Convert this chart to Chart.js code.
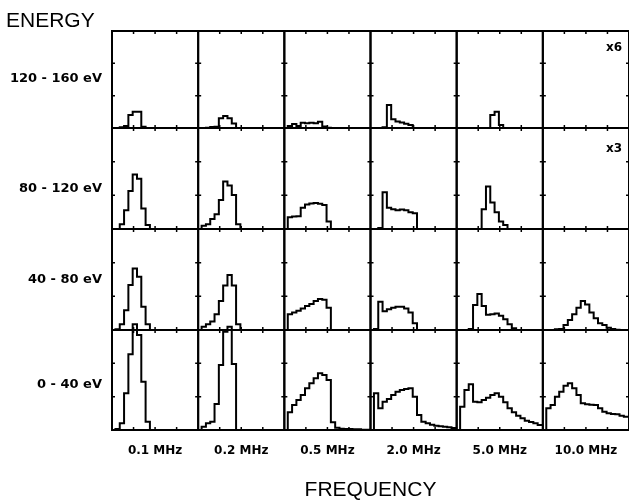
<!DOCTYPE html>
<html>
<head>
<meta charset="utf-8">
<script src="https://cdn.jsdelivr.net/npm/chart.js@4.4.0/dist/chart.umd.min.js"></script>
<style>
  html, body { margin: 0; padding: 0; background: #fff; }
</style>
</head>
<body>
<canvas id="myChart" width="629" height="503"></canvas>
<script>
// energy bands, top row first
const energyLabels = ['120 - 160 eV', '80 - 120 eV', '40 - 80 eV', '0 - 40 eV'];
const freqLabels = ['0.1 MHz', '0.2 MHz', '0.5 MHz', '2.0 MHz', '5.0 MHz', '10.0 MHz'];
const rowScale = ['x6', 'x3', '', ''];

// counts per bin, 20 bins per panel, one array per frequency
const band120to160 = [
  [0, 0, 0.2, 0.6, 4.0, 5.0, 5.0, 0.4, 0, 0, 0, 0, 0, 0, 0, 0, 0, 0, 0, 0],
  [0, 0, 0.1, 0.3, 0.4, 3.0, 3.7, 3.0, 1.4, 0, 0, 0, 0, 0, 0, 0, 0, 0, 0, 0],
  [0.2, 0.6, 1.2, 0.6, 1.6, 1.5, 1.6, 1.5, 1.9, 0.5, 0.1, 0, 0, 0, 0, 0, 0, 0, 0, 0],
  [0, 0, 0, 0.2, 7.1, 2.7, 2.0, 1.7, 1.3, 0.9, 0, 0, 0, 0, 0, 0, 0, 0, 0, 0],
  [0, 0, 0, 0, 0, 0, 0, 0, 4.0, 5.0, 0.9, 0, 0, 0, 0, 0, 0, 0, 0, 0],
  [0, 0, 0, 0, 0, 0, 0, 0, 0, 0, 0, 0, 0, 0, 0, 0, 0, 0, 0, 0]
];
const band80to120 = [
  [0, 0, 1.4, 5.6, 11.3, 16.2, 14.9, 6.1, 1.2, 0, 0, 0, 0, 0, 0, 0, 0, 0, 0, 0],
  [0, 1.0, 1.4, 3.0, 4.4, 8.6, 14.1, 12.9, 10.1, 1.4, 0, 0, 0, 0, 0, 0, 0, 0, 0, 0],
  [3.2, 3.5, 3.7, 3.8, 6.3, 7.3, 7.6, 7.7, 7.5, 7.1, 2.2, 0, 0, 0, 0, 0, 0, 0, 0, 0],
  [0, 0, 0.3, 10.9, 6.3, 5.9, 5.6, 5.8, 5.6, 5.0, 4.7, 0, 0, 0, 0, 0, 0, 0, 0, 0],
  [0, 0, 0, 0, 0, 0, 5.9, 12.6, 7.9, 5.0, 2.2, 1.2, 0, 0, 0, 0, 0, 0, 0, 0],
  [0, 0, 0, 0, 0, 0, 0, 0, 0, 0, 0, 0, 0, 0, 0, 0, 0, 0, 0, 0]
];
const band40to80 = [
  [0, 0.2, 1.7, 5.9, 13.4, 18.3, 15.8, 6.9, 1.7, 0, 0, 0, 0, 0, 0, 0, 0, 0, 0, 0],
  [0.3, 1.0, 1.7, 2.5, 4.7, 8.6, 13.2, 16.3, 13.2, 1.7, 0, 0, 0, 0, 0, 0, 0, 0, 0, 0],
  [3.3, 4.7, 5.2, 5.7, 6.4, 7.1, 7.7, 8.6, 9.2, 9.0, 6.6, 0, 0, 0, 0, 0, 0, 0, 0, 0],
  [0, 0.3, 8.4, 5.6, 6.2, 6.6, 6.9, 6.9, 6.4, 5.2, 2.0, 0, 0, 0, 0, 0, 0, 0, 0, 0],
  [0, 0, 0, 0.3, 7.4, 10.7, 7.1, 4.5, 4.7, 4.9, 4.2, 3.2, 1.7, 0.5, 0, 0, 0, 0, 0, 0],
  [0, 0, 0, 0.2, 0.3, 1.5, 3.0, 4.7, 6.6, 8.6, 7.6, 5.2, 3.5, 2.0, 1.5, 0.7, 0.3, 0.1, 0, 0]
];
const band0to40 = [
  [0, 0.3, 2.0, 11.0, 22.7, 31.7, 28.5, 14.5, 2.5, 0, 0, 0, 0, 0, 0, 0, 0, 0, 0, 0],
  [0.3, 1.0, 2.0, 2.5, 7.8, 19.5, 29.5, 31.0, 19.8, 0, 0, 0, 0, 0, 0, 0, 0, 0, 0, 0],
  [3.5, 5.3, 7.5, 9.0, 10.5, 12.5, 14.0, 15.5, 17.0, 16.5, 15.0, 2.3, 0.7, 0.4, 0.3, 0.3, 0.2, 0.2, 0.1, 0.1],
  [0, 11.0, 6.5, 8.5, 9.3, 10.5, 11.5, 12.0, 12.3, 12.5, 10.0, 4.5, 2.5, 2.0, 1.6, 1.3, 1.1, 1.0, 0.8, 0.6],
  [0, 7.0, 12.0, 13.7, 8.5, 8.3, 9.0, 9.7, 10.5, 11.0, 10.0, 8.3, 6.5, 5.3, 4.3, 3.5, 2.8, 2.4, 2.0, 1.5],
  [3.7, 6.5, 7.5, 10.0, 11.5, 13.3, 14.0, 12.5, 10.5, 8.0, 7.7, 7.6, 7.5, 6.5, 5.5, 5.0, 4.8, 4.7, 4.3, 4.0]
];

const bands = [band120to160, band80to120, band40to80, band0to40];

// panel layout
const rowWeights = [97, 101, 101, 100];
const labelAt = [15.4, 12.0, 15.0, 13.5];   // where each band name sits on its axis
const xRange = [-0.8, 19.2];
const yMax = 30;
const yGrid = [10, 20];
const notePos = { x: 17.6, y: [24.7, 23.8] };

const xIds = freqLabels.map((_, c) => 'f' + c);
const yIds = energyLabels.map((_, r) => 'e' + r);

const labelFont = { family: 'DejaVu Sans', size: 12, weight: 'bold', lineHeight: 1.2 };

const scales = {};
freqLabels.forEach((label, c) => {
  scales[xIds[c]] = {
    type: 'linear', position: 'bottom', stack: 'freq',
    min: xRange[0], max: xRange[1],
    border: { display: false },
    grid: { display: false, drawTicks: false },
    ticks: { display: false },
    // tick marks at the quarters of each panel
    afterBuildTicks: axis => {
      axis.ticks = [1, 2, 3].map(k => ({ value: axis.min + (axis.max - axis.min) * k / 4 }));
    },
    title: { display: true, text: label, color: '#000', font: labelFont, padding: { top: 0, bottom: 18 } },
    afterFit: axis => { axis.height = 46; }
  };
});
// left stacked axes are laid out last one on top, so add the lowest band first
for (let r = energyLabels.length - 1; r >= 0; r--) {
  scales[yIds[r]] = {
    type: 'linear', position: 'left', stack: 'energy', stackWeight: rowWeights[r],
    min: 0, max: yMax,
    border: { display: false },
    grid: { display: false, drawTicks: false },
    afterBuildTicks: axis => { axis.ticks = [{ value: labelAt[r] }]; },
    ticks: {
      padding: 10, color: '#000',
      font: { family: 'DejaVu Sans', size: 13, weight: 'bold' },
      callback: () => energyLabels[r]
    },
    afterFit: axis => { axis.width = 106; }
  };
}

const datasets = [];
bands.forEach((band, r) => {
  band.forEach((counts, c) => {
    const pts = counts.map((v, i) => ({ x: i, y: v }));
    pts.unshift({ x: 0, y: 0 });
    pts.push({ x: counts.length, y: counts[counts.length - 1] });
    datasets.push({
      data: pts,
      xAxisID: xIds[c], yAxisID: yIds[r],
      stepped: 'after',
      borderColor: '#000', borderWidth: 2,
      pointRadius: 0, fill: false,
      clip: { left: 0, right: 0, top: false, bottom: 2 }
    });
  });
});

// panel frames, inward tick marks and the x6 / x3 factors
const panelFrame = {
  id: 'panelFrame',
  beforeDatasetsDraw(chart) {
    const ctx = chart.ctx;
    ctx.save();
    ctx.strokeStyle = '#000';
    yIds.forEach((yid, r) => {
      const ys = chart.scales[yid];
      xIds.forEach(xid => {
        const xs = chart.scales[xid];
        ctx.lineWidth = 2;
        ctx.strokeRect(xs.left, ys.top, xs.right - xs.left, ys.bottom - ys.top);
        ctx.lineWidth = 1.5;
        ctx.beginPath();
        xs.ticks.forEach(t => {
          const px = xs.getPixelForValue(t.value);
          ctx.moveTo(px, ys.top); ctx.lineTo(px, ys.top + 3);
          ctx.moveTo(px, ys.bottom); ctx.lineTo(px, ys.bottom - 3);
        });
        yGrid.forEach(v => {
          const py = ys.getPixelForValue(v);
          ctx.moveTo(xs.left, py); ctx.lineTo(xs.left + 3, py);
          ctx.moveTo(xs.right, py); ctx.lineTo(xs.right - 3, py);
        });
        ctx.stroke();
      });
      if (rowScale[r]) {
        const xs = chart.scales[xIds[xIds.length - 1]];
        ctx.fillStyle = '#000';
        ctx.font = 'bold 12px "DejaVu Sans"';
        ctx.textAlign = 'right';
        ctx.textBaseline = 'middle';
        ctx.fillText(rowScale[r], xs.getPixelForValue(notePos.x), ys.getPixelForValue(notePos.y[r]));
      }
    });
    ctx.restore();
  }
};

const ctx = document.getElementById('myChart').getContext('2d');
const chart = new Chart(ctx, {
  type: 'line',
  data: { datasets },
  options: {
    responsive: false,
    animation: false,
    events: [],
    layout: { padding: { top: 0, left: 6, right: -1, bottom: 0 } },
    plugins: {
      legend: { display: false },
      tooltip: { enabled: false },
      title: {
        display: true, text: 'ENERGY', align: 'start', color: '#000',
        font: { family: 'Liberation Sans', size: 21, weight: 'normal', lineHeight: 0.9 },
        padding: { top: 12, bottom: 0.1 }
      },
      subtitle: {
        display: true, text: 'FREQUENCY', position: 'bottom', fullSize: false, color: '#000',
        font: { family: 'Liberation Sans', size: 21, weight: 'normal', lineHeight: 1.2 },
        padding: { top: 1.8, bottom: 0 }
      }
    },
    scales
  },
  plugins: [panelFrame]
});
</script>
</body>
</html>
